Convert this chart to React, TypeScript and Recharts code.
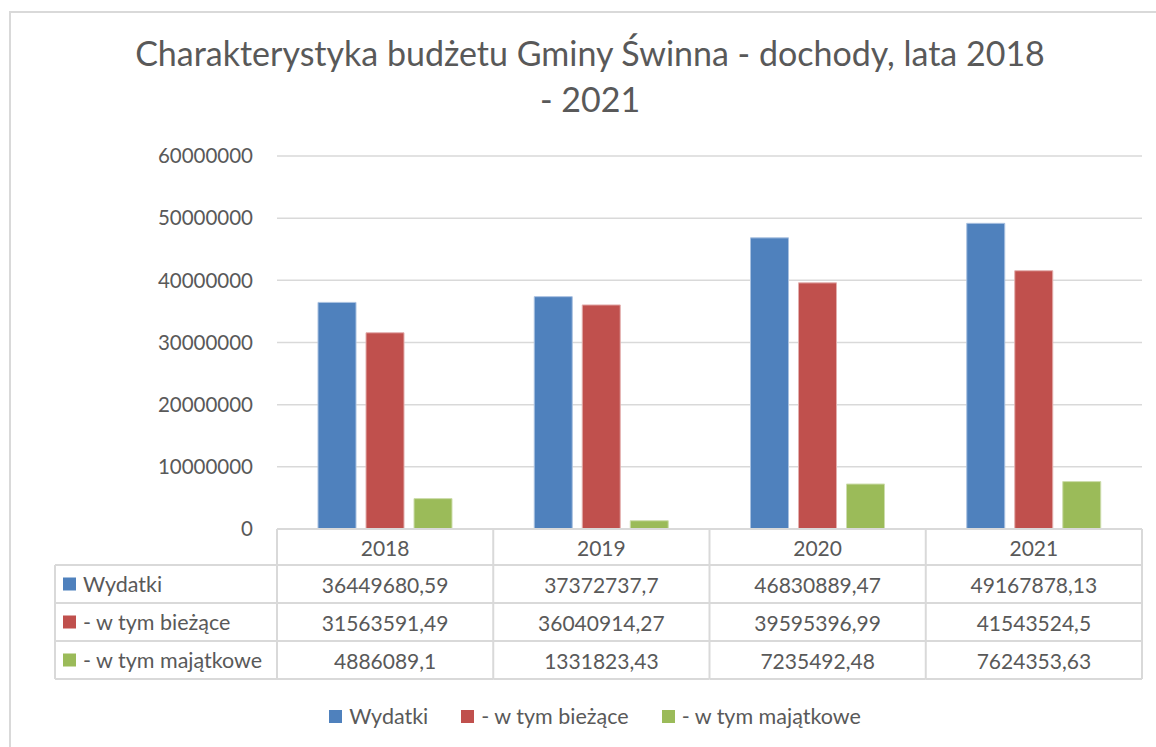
import React from 'react';
import { BarChart, Bar, XAxis, YAxis, CartesianGrid, Legend } from 'recharts';

const categories = ['2018', '2019', '2020', '2021'];
const wydatki = [36449680.59, 37372737.7, 46830889.47, 49167878.13];
const biezace = [31563591.49, 36040914.27, 39595396.99, 41543524.5];
const majatkowe = [4886089.1, 1331823.43, 7235492.48, 7624353.63];
const seriesNames = ['Wydatki', '- w tym bieżące', '- w tym majątkowe'];
const seriesKeys = ['wydatki', 'biezace', 'majatkowe'];
const seriesColors = ['#4F81BD', '#C0504D', '#9BBB59'];
const seriesStrokes = ['#A9C1E0', '#E3AEAD', '#CDDDAD'];
const yTicks = [0, 10000000, 20000000, 30000000, 40000000, 50000000, 60000000];
const titleLines = ['Charakterystyka budżetu Gminy Świnna - dochody, lata 2018', '- 2021'];

const seriesValues = [wydatki, biezace, majatkowe];
const data = categories.map((c, i) => ({
  name: c,
  wydatki: wydatki[i],
  biezace: biezace[i],
  majatkowe: majatkowe[i],
}));

const FONT = 'Lato, "Open Sans", sans-serif';
const TEXT = '#595959';
const LINE = '#D9D9D9';
const fmt = (v: number) => String(v).replace('.', ',');

const HEADER_H = 36;
const ROW_H = 38;
const LABEL_COL_W = 222;
const TABLE_FS = 21;
const LABEL_FS = 21.5;

const TableTick = (props: any) => {
  const { x, y, payload, index } = props;
  const half = payload && payload.offset ? payload.offset : 108;
  const left = x - half;
  const right = x + half;
  const bottom = y + HEADER_H + ROW_H * 3;
  const els: any[] = [];
  els.push(
    <text key="h" x={x} y={y + HEADER_H / 2} textAnchor="middle" dominantBaseline="central"
      fill={TEXT} fontSize={TABLE_FS} fontFamily={FONT}>{payload.value}</text>
  );
  if (index === 0) {
    els.push(<line key="vl" x1={left} x2={left} y1={y} y2={bottom} stroke={LINE} strokeWidth={2} />);
  }
  els.push(<line key="vr" x1={right} x2={right} y1={y} y2={bottom} stroke={LINE} strokeWidth={2} />);
  for (let r = 0; r <= 3; r++) {
    const yy = y + HEADER_H + ROW_H * r;
    els.push(<line key={'hl' + r} x1={left} x2={right} y1={yy} y2={yy} stroke={LINE} strokeWidth={2} />);
  }
  seriesValues.forEach((arr, r) => {
    els.push(
      <text key={'v' + r} x={x} y={y + HEADER_H + ROW_H * r + ROW_H / 2} textAnchor="middle"
        dominantBaseline="central" fill={TEXT} fontSize={TABLE_FS} fontFamily={FONT}>{fmt(arr[index])}</text>
    );
  });
  if (index === 0) {
    const lx = left - LABEL_COL_W;
    els.push(<line key="lcl" x1={lx} x2={lx} y1={y + HEADER_H} y2={bottom} stroke={LINE} strokeWidth={2} />);
    for (let r = 0; r <= 3; r++) {
      const yy = y + HEADER_H + ROW_H * r;
      els.push(<line key={'lh' + r} x1={lx} x2={left} y1={yy} y2={yy} stroke={LINE} strokeWidth={2} />);
    }
    seriesNames.forEach((n, r) => {
      const cy = y + HEADER_H + ROW_H * r + ROW_H / 2;
      els.push(<rect key={'ls' + r} x={lx + 8} y={cy - 6.5} width={13} height={13} fill={seriesColors[r]} />);
      els.push(
        <text key={'lt' + r} x={lx + 28} y={cy} dominantBaseline="central" fill={TEXT}
          fontSize={LABEL_FS} fontFamily={FONT}>{n}</text>
      );
    });
  }
  return <g>{els}</g>;
};

const LegendContent = () => (
  <div style={{ display: 'flex', justifyContent: 'center', gap: 33, fontFamily: FONT, fontSize: LABEL_FS, color: TEXT, lineHeight: '26px' }}>
    {seriesNames.map((n, i) => (
      <span key={i} style={{ display: 'flex', alignItems: 'center' }}>
        <span style={{ display: 'inline-block', width: 13, height: 13, background: seriesColors[i], marginRight: 7 }} />
        {n}
      </span>
    ))}
  </div>
);

export default function App() {
  return (
    <div style={{ position: 'absolute', left: 0, top: 0, width: 1156, height: 747, overflow: 'hidden', background: '#fff' }}>
      <div style={{ position: 'absolute', left: 9, top: 11, width: 1200, height: 800, borderLeft: `2px solid ${LINE}`, borderTop: `2px solid ${LINE}` }} />
      <div style={{ position: 'absolute', left: 12, top: 30, width: 1156, textAlign: 'center', fontFamily: FONT, fontSize: 34, color: TEXT, lineHeight: '46px' }}>
        {titleLines.map((t, i) => <div key={i}>{t}</div>)}
      </div>
      <div style={{ position: 'absolute', left: 0, top: 0 }}>
        <BarChart width={1156} height={747} data={data} margin={{ top: 156, right: 14, left: 0, bottom: 67 }}
          barCategoryGap={41} barGap={10}>
          <CartesianGrid vertical={false} stroke={LINE} strokeWidth={1.5} />
          <YAxis domain={[0, 60000000]} ticks={yTicks} width={277} axisLine={false} tickLine={false}
            tickMargin={18} tick={{ fill: TEXT, fontSize: 20.5, fontFamily: FONT }} interval={0} />
          <XAxis dataKey="name" height={151} interval={0} tickSize={0} tickMargin={0}
            axisLine={{ stroke: LINE, strokeWidth: 2 }} tickLine={false} tick={(p: any) => <TableTick {...p} />} />
          {seriesKeys.map((k, i) => (
            <Bar key={k} dataKey={k} name={seriesNames[i]} fill={seriesColors[i]} stroke={seriesStrokes[i]}
              strokeWidth={1} isAnimationActive={false} />
          ))}
          <Legend verticalAlign="middle" align="center" layout="horizontal"
            wrapperStyle={{ top: 703, left: 17, width: 1156 }} content={() => <LegendContent />} />
        </BarChart>
      </div>
    </div>
  );
}
